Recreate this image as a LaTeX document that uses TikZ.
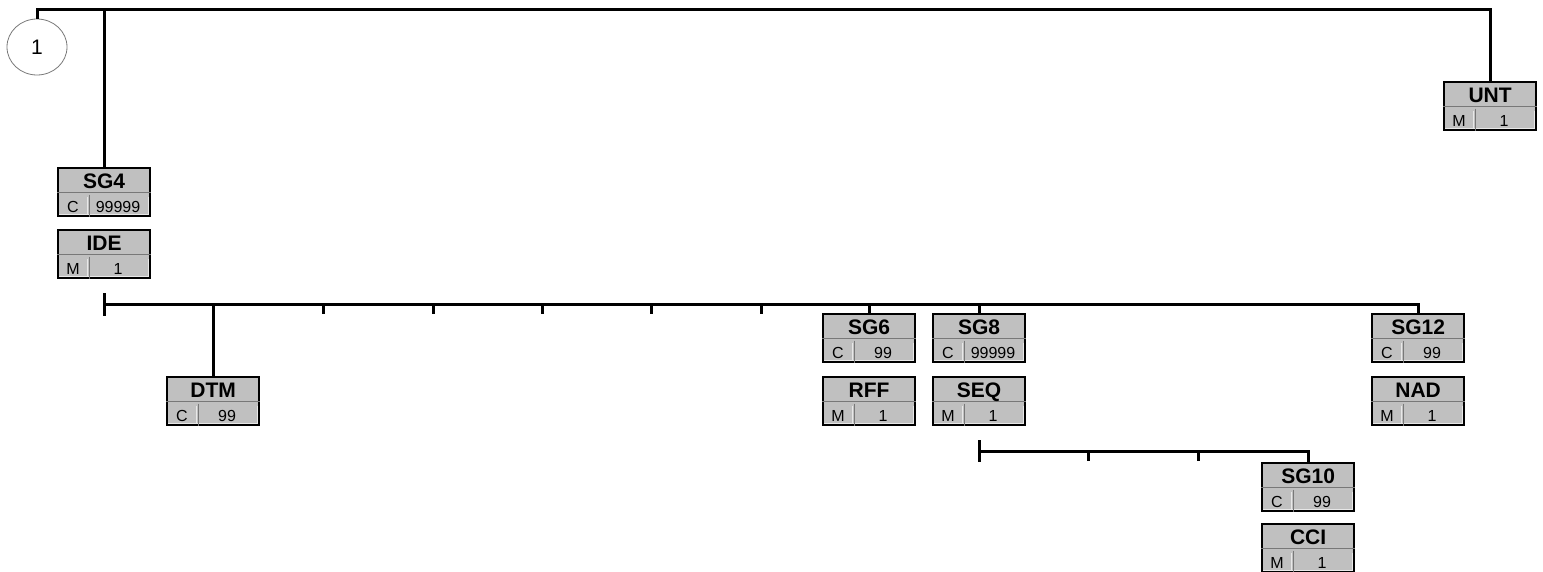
\documentclass[tikz,border=0pt]{standalone}
\usepackage{fontspec}
\setmainfont{Liberation Sans}
\usetikzlibrary{calc,shapes.geometric}
\definecolor{boxgray}{RGB}{192,192,192}
\definecolor{sepgray}{RGB}{120,120,120}
\definecolor{higray}{RGB}{232,232,232}
\tikzset{
 tree/.style={line width=3pt},
 segframe/.style={draw=black, line width=2.2pt, fill=boxgray, minimum width=92pt, minimum height=48pt, inner sep=0pt, anchor=north west},
 sepline/.style={draw=sepgray, line width=1pt},
 hiline/.style={draw=higray, line width=1pt},
 titletext/.style={font=\bfseries\fontsize{21}{21}\selectfont, inner sep=0pt, text height=15pt, text depth=0pt},
 celltext/.style={font=\fontsize{16}{16}\selectfont, inner sep=0pt, text height=11.5pt, text depth=0pt},
 ringnode/.style={draw=sepgray, line width=0.8pt, ellipse, minimum width=60pt, minimum height=56pt, inner sep=0pt, font=\fontsize{21}{21}\selectfont},
}
\newcommand\segbox[6]{%
 \node[segframe] (#1) at (#2,-#3) {};
 \draw[hiline] ([xshift=30pt,yshift=3pt]#1.south west) -- ([xshift=30pt,yshift=20pt]#1.south west);
 \draw[hiline] ([xshift=-3pt,yshift=3pt]#1.south east) -- ([xshift=-3pt,yshift=20pt]#1.south east);
 \draw[hiline] ([xshift=2pt,yshift=2.5pt]#1.south west) -- ([xshift=-2pt,yshift=2.5pt]#1.south east);
 \draw[sepline] ([yshift=-25.5pt]#1.north west) -- ([yshift=-25.5pt]#1.north east);
 \draw[sepline] ([xshift=32pt,yshift=22.5pt]#1.south west) -- ([xshift=32pt]#1.south west);
 \node[titletext] (#1-t) at ([yshift=-13.5pt]#1.north) {#4};
 \node[celltext] (#1-s) at ([xshift=16pt,yshift=10pt]#1.south west) {#5};
 \node[celltext] (#1-r) at ([xshift=61pt,yshift=10pt]#1.south west) {#6};
}
\begin{document}
\begin{tikzpicture}[x=1pt,y=1pt]
\useasboundingbox (0,0) rectangle (1543,-571);
% nodes
\node[ringnode] (c1) at (37,-47) {1};
\segbox{unt}{1443}{81}{UNT}{M}{1}
\segbox{sg4}{57}{167}{SG4}{C}{99999}
\segbox{ide}{57}{229}{IDE}{M}{1}
\segbox{dtm}{166}{376}{DTM}{C}{99}
\segbox{sg6}{822}{313}{SG6}{C}{99}
\segbox{rff}{822}{376}{RFF}{M}{1}
\segbox{sg8}{932}{313}{SG8}{C}{99999}
\segbox{seq}{932}{376}{SEQ}{M}{1}
\segbox{sg12}{1371}{313}{SG12}{C}{99}
\segbox{nad}{1371}{376}{NAD}{M}{1}
\segbox{sg10}{1261}{462}{SG10}{C}{99}
\segbox{cci}{1261}{523}{CCI}{M}{1}
% top level
\coordinate (topy) at (0,-9.5);
\draw[tree] (c1.north) -- (c1.north |- topy) -- (unt.north |- topy) -- (unt.north);
\draw[tree] (sg4.north |- topy) -- (sg4.north);
% second level
\coordinate (bar2) at (0,-304);
\coordinate (b2up) at (0,-293);
\coordinate (b2dn) at (0,-316);
\draw[tree] (sg4.south |- b2up) -- (sg4.south |- b2dn);
\draw[tree] (sg4.south |- bar2) -- (sg12.north |- bar2) -- (sg12.north);
\foreach \tx in {323,433,542,651,761}{
 \coordinate (t2-\tx) at (\tx,-304);
 \draw[tree] (t2-\tx) -- ++(0,-10);
}
\draw[tree] (dtm.north |- bar2) -- (dtm.north);
\draw[tree] (sg6.north |- bar2) -- (sg6.north);
\draw[tree] (sg8.north |- bar2) -- (sg8.north);
% third level
\coordinate (bar3) at (0,-451);
\coordinate (b3up) at (0,-440);
\coordinate (b3dn) at (0,-462);
\draw[tree] (seq.south |- b3up) -- (seq.south |- b3dn);
\draw[tree] (seq.south |- bar3) -- (sg10.north |- bar3) -- (sg10.north);
\foreach \tx in {1088,1198}{
 \coordinate (t3-\tx) at (\tx,-451);
 \draw[tree] (t3-\tx) -- ++(0,-10);
}
\end{tikzpicture}
\end{document}
